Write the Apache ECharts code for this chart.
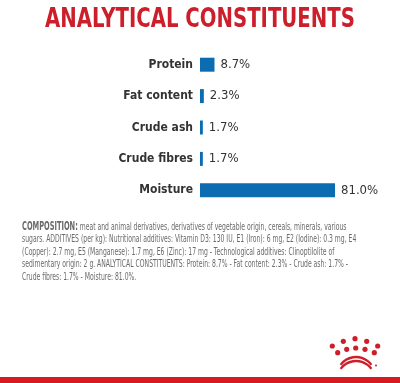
<!DOCTYPE html>
<html>
<head>
<meta charset="utf-8">
<script src="https://cdn.jsdelivr.net/npm/echarts@6/dist/echarts.min.js"></script>
<style>
html,body{margin:0;padding:0;background:#fff;}
#chart{width:400px;height:383px;}
</style>
</head>
<body>
<div id="chart"></div>
<script>
const title = 'ANALYTICAL CONSTITUENTS';
const categories = ['Protein', 'Fat content', 'Crude ash', 'Crude fibres', 'Moisture'];
const values = [8.7, 2.3, 1.7, 1.7, 81.0];
const valueLabels = ['8.7%', '2.3%', '1.7%', '1.7%', '81.0%'];
const compositionLines = [
  'meat and animal derivatives, derivatives of vegetable origin, cereals, minerals, various',
  'sugars. ADDITIVES (per kg): Nutritional additives: Vitamin D3: 130 IU, E1 (Iron): 6 mg, E2 (Iodine): 0.3 mg, E4',
  '(Copper): 2.7 mg, E5 (Manganese): 1.7 mg, E6 (Zinc): 17 mg - Technological additives: Clinoptilolite of',
  'sedimentary origin: 2 g. ANALYTICAL CONSTITUENTS: Protein: 8.7% - Fat content: 2.3% - Crude ash: 1.7% -',
  'Crude fibres: 1.7% - Moisture: 81.0%.'
];

const FONT = '"DejaVu Sans Condensed", "DejaVu Sans", sans-serif';
const RED = '#cc1f2b';
const chart = echarts.init(document.getElementById('chart'), null, {renderer: 'canvas'});

const graphics = [];
// title (condensed via horizontal scale)
graphics.push({
  type: 'text', x: 200, y: 20, scaleX: 0.842,
  style: {
    text: title, x: 0, y: 0, textAlign: 'center', textVerticalAlign: 'middle',
    font: 'bold 26px ' + FONT, fill: RED
  }
});
// composition text
compositionLines.forEach((line, i) => {
  graphics.push({
    type: 'text', x: 22, y: 226.7 + i * 12.5, scaleX: 0.616,
    style: {
      text: i === 0 ? '{b|COMPOSITION:} ' + line : line,
      x: 0, y: 0, textVerticalAlign: 'middle',
      font: '11px ' + FONT, fill: '#6a6a6a',
      rich: { b: { fontFamily: FONT, fontSize: 12, fontWeight: 'bold', color: '#333' } }
    }
  });
});
// crown logo
const crownTop = [[332.3,346],[343.3,341.3],[355,338.7],[366.7,341.3],[377.7,346]];
const crownLow = [[337.7,352.7],[346.7,349.3],[355.7,348],[365,349.3],[374.3,352.7]];
crownTop.concat(crownLow).forEach(p => graphics.push({type:'circle', shape:{cx:p[0], cy:p[1], r:2.6}, style:{fill:RED}}));
graphics.push({type:'arc', shape:{cx:356, cy:376, r:19, startAngle:Math.PI*1.2, endAngle:Math.PI*1.8}, style:{stroke:RED, lineWidth:2.4, fill:null}});
graphics.push({type:'arc', shape:{cx:356, cy:380, r:19, startAngle:Math.PI*1.2, endAngle:Math.PI*1.8}, style:{stroke:RED, lineWidth:2.4, fill:null}});
graphics.push({type:'circle', shape:{cx:376, cy:365.5, r:1}, style:{fill:RED}});
// bottom red band
graphics.push({type:'rect', shape:{x:0, y:377, width:400, height:6}, style:{fill:'#d71920'}});

chart.setOption({
  animation: false,
  backgroundColor: '#fff',
  grid: { left: 200, right: 65, top: 49, height: 157 },
  xAxis: { type: 'value', min: 0, max: 81, show: false },
  yAxis: {
    type: 'category', data: categories, inverse: true,
    axisLine: { show: false }, axisTick: { show: false },
    axisLabel: { margin: 7, fontFamily: FONT, fontSize: 12, fontWeight: 'bold', color: '#333' }
  },
  series: [{
    type: 'bar', data: values, barWidth: 14,
    itemStyle: { color: '#0b6cb2' },
    label: {
      show: true, position: 'right', distance: 6,
      formatter: p => valueLabels[p.dataIndex],
      fontFamily: FONT, fontSize: 13, color: '#333'
    }
  }],
  graphic: graphics
});
</script>
</body>
</html>
